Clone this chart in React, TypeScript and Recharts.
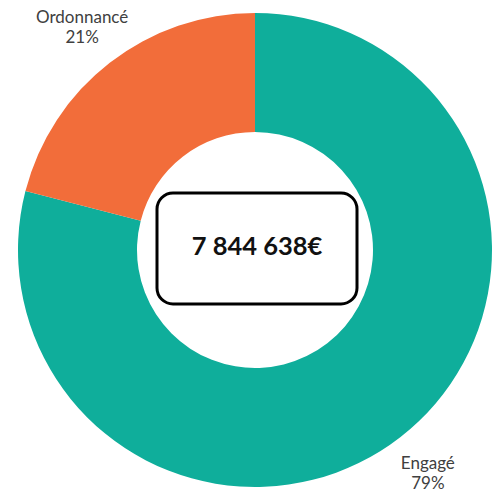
import React from "react";
import { PieChart, Pie, Cell } from "recharts";

const categories = ["Engagé", "Ordonnancé"];
const percentages = [79, 21];
const totalLabel = "7 844 638€";
const colors = ["#0FAE9B", "#F26D3A"];

const data = categories.map((name, i) => ({ name, value: percentages[i] }));

const RADIAN = Math.PI / 180;

const renderLabel = (props: any) => {
  const { cx, cy, midAngle, outerRadius, index } = props;
  const r = outerRadius + 45;
  const x = cx + r * Math.cos(-midAngle * RADIAN);
  const y = cy + r * Math.sin(-midAngle * RADIAN);
  return (
    <g>
      <text
        x={x}
        y={y}
        textAnchor="middle"
        fill="#404040"
        fontFamily="Lato, 'Open Sans', sans-serif"
        fontSize={17}
      >
        <tspan x={x} y={y - 4}>{categories[index]}</tspan>
        <tspan x={x} y={y + 16}>{`${percentages[index]}%`}</tspan>
      </text>
      {index === 0 ? (
        <g>
          <rect
            x={cx - 98}
            y={cy - 57}
            width={200}
            height={111}
            rx={16}
            ry={16}
            fill="#ffffff"
            stroke="#000000"
            strokeWidth={3}
          />
          <text
            x={cx + 2}
            y={cy + 5}
            textAnchor="middle"
            fill="#111111"
            fontFamily="Lato, 'Open Sans', sans-serif"
            fontWeight="bold"
            fontSize={25.5}
          >
            {totalLabel}
          </text>
        </g>
      ) : null}
    </g>
  );
};

export default function App() {
  return (
    <div style={{ position: "absolute", left: 0, top: 0, width: 503, height: 493, background: "#ffffff" }}>
      <PieChart width={503} height={493} margin={{ top: 0, right: 0, bottom: 0, left: 0 }}>
        <Pie
          data={data}
          dataKey="value"
          nameKey="name"
          cx={255}
          cy={250}
          innerRadius={118}
          outerRadius={237}
          startAngle={90}
          endAngle={-270}
          stroke="none"
          label={renderLabel}
          labelLine={false}
          isAnimationActive={false}
        >
          {data.map((d, i) => (
            <Cell key={d.name} fill={colors[i]} />
          ))}
        </Pie>
      </PieChart>
    </div>
  );
}
